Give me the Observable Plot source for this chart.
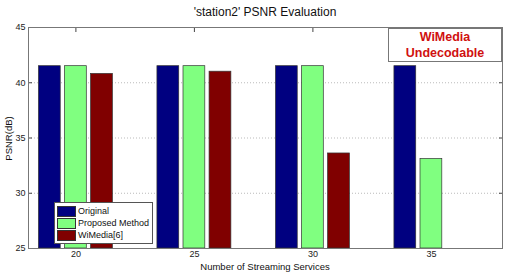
<!DOCTYPE html>
<html><head><meta charset="utf-8">
<script src="https://cdn.jsdelivr.net/npm/d3@7"></script>
<script src="https://cdn.jsdelivr.net/npm/@observablehq/plot@0.6"></script>
<style>
body{margin:0;background:#fff;font-family:"Liberation Sans",Arial,sans-serif;}
#wrap{position:relative;width:507px;height:272px;}
.ov{position:absolute;}
</style></head><body>
<div id="wrap"></div>
<script>
const services = [20, 25, 30, 35];
const seriesNames = ["Original", "Proposed Method", "WiMedia[6]"];
const original = [41.5, 41.5, 41.5, 41.5];
const proposed = [41.5, 41.5, 41.5, 33.1];
const wimedia = [40.8, 41.0, 33.6, null];
const colors = ["#000080", "#80ff80", "#800000"];
const yTicks = [25, 30, 35, 40, 45];
const title = "'station2' PSNR Evaluation";
const xLabel = "Number of Streaming Services";
const yLabel = "PSNR(dB)";
const note = ["WiMedia", "Undecodable"];

const allSeries = [original, proposed, wimedia];
const data = [];
allSeries.forEach((vals, si) => vals.forEach((v, i) => {
  if (v != null) data.push({service: services[i], series: seriesNames[si], si, value: v});
}));
const offset = 1.1, bw = 0.92;

const chart = Plot.plot({
  width: 507, height: 272,
  marginLeft: 28, marginRight: 5, marginTop: 27, marginBottom: 24,
  style: {fontFamily: "Liberation Sans, Arial, sans-serif", fontSize: "9px", color: "#222", background: "#fff"},
  x: {domain: [18, 38]},
  y: {domain: [25, 45]},
  color: {domain: seriesNames, range: colors},
  marks: [
    Plot.ruleY([30, 35, 40], {stroke: "#bbb", strokeDasharray: "1,2"}),
    Plot.rectY(data, {
      x1: d => d.service + (d.si - 1) * offset - bw / 2,
      x2: d => d.service + (d.si - 1) * offset + bw / 2,
      y1: 25, y2: "value", fill: "series", stroke: "#333", strokeWidth: 0.7
    }),
    Plot.axisX({anchor: "bottom", ticks: services, tickSize: 0, tickPadding: 2, label: null, tickFormat: d => d}),
    Plot.axisX({anchor: "top", ticks: services, tickSize: -4, label: null, tickFormat: () => "", stroke: "#444"}),
    Plot.axisY({anchor: "left", ticks: yTicks, tickSize: -4, tickPadding: 7, label: null, stroke: "#444"}),
    Plot.axisY({anchor: "right", ticks: yTicks, tickSize: -4, label: null, tickFormat: () => "", stroke: "#444"}),
    Plot.frame({stroke: "#777"})
  ]
});
const wrap = document.getElementById("wrap");
chart.style.position = "absolute"; chart.style.left = "0"; chart.style.top = "0";
wrap.appendChild(chart);

function add(html, css) {
  const d = document.createElement("div");
  d.className = "ov"; d.innerHTML = html; Object.assign(d.style, css); wrap.appendChild(d); return d;
}
add(title, {left: "28px", width: "474px", top: "5px", textAlign: "center", fontSize: "12px", color: "#111"});
add(xLabel, {left: "28px", width: "474px", top: "261px", textAlign: "center", fontSize: "9.5px", color: "#111"});
add(yLabel, {left: "-22px", top: "133px", width: "60px", textAlign: "center", fontSize: "9.5px", color: "#111", transform: "rotate(-90deg)"});
add(note.join("<br>"), {left: "388px", top: "28px", width: "112px", height: "32px", border: "1px solid #777", background: "#fff",
  color: "#d01010", fontWeight: "bold", fontSize: "12.5px", lineHeight: "16px", textAlign: "center"});
add(seriesNames.map((n, i) =>
  `<div style="display:flex;align-items:center;height:12px;white-space:nowrap"><span style="display:inline-block;flex:none;width:17px;height:9px;background:${colors[i]};border:1px solid #333;margin-right:2px"></span>${n}</div>`).join(""),
  {left: "54px", top: "202px", padding: "2px 3px 2px 2px", border: "1px solid #555", background: "#fff", fontSize: "9px", color: "#111", whiteSpace: "nowrap"});
</script></body></html>
